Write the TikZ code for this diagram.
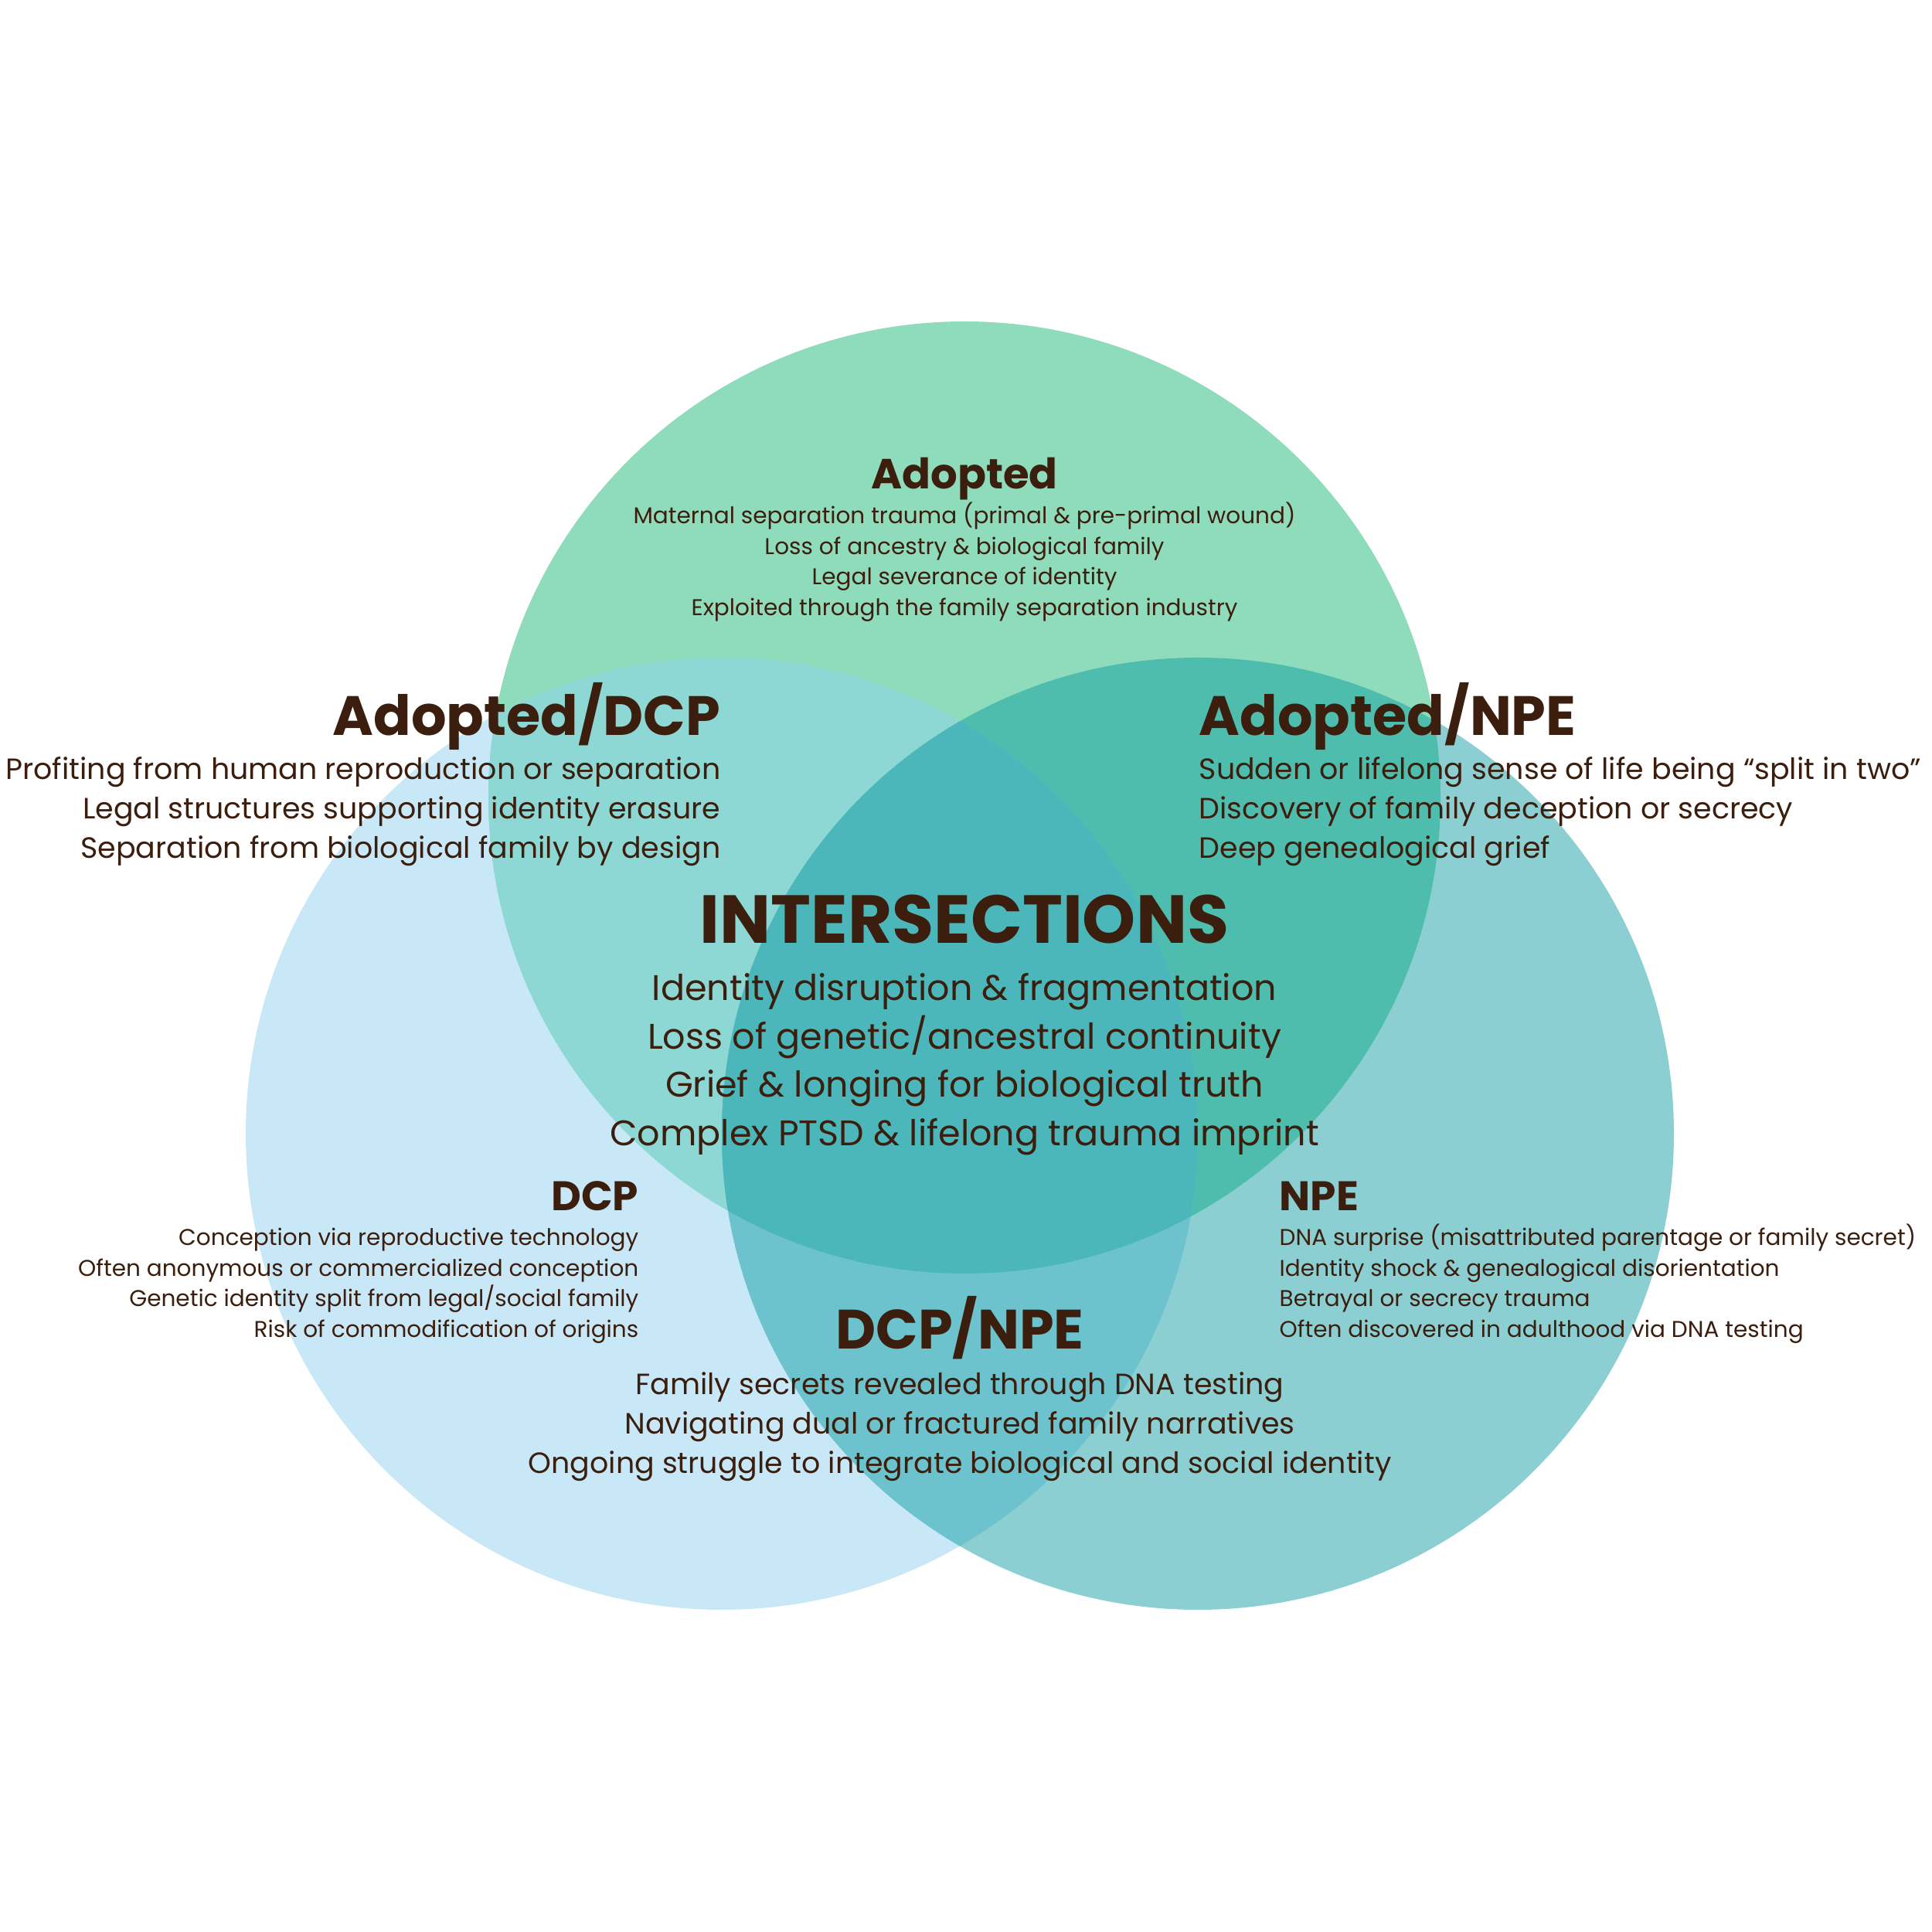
\documentclass[tikz,border=0pt]{standalone}
\usepackage{fontspec}
\setmainfont{Poppins}
\definecolor{ink}{HTML}{3B1E0D}
\definecolor{cAdopt}{HTML}{8FDCBC}
\definecolor{cDCP}{HTML}{C9E8F7}
\definecolor{cNPE}{HTML}{8BCFD3}
\definecolor{cAD}{HTML}{8DD8D4}
\definecolor{cAN}{HTML}{4FBDAE}
\definecolor{cDN}{HTML}{6CC2CD}
\definecolor{cAll}{HTML}{4CB7BB}
\tikzset{
  every node/.style={text=ink, inner sep=0pt},
  bigtitle/.style={font=\bfseries\fontsize{20.4}{24}\selectfont},
  toptitle/.style={font=\bfseries\fontsize{15.5}{19}\selectfont},
  subtitle/.style={font=\bfseries\fontsize{15.2}{18}\selectfont},
  maintitle/.style={font=\bfseries\fontsize{25}{30}\selectfont},
  smalltxt/.style={font=\fontsize{8.4}{10}\selectfont},
  midtxt/.style={font=\fontsize{10.8}{13}\selectfont},
  largetxt/.style={font=\fontsize{13.1}{16}\selectfont}
}
\begin{document}
\begin{tikzpicture}
  \useasboundingbox (0,0) rectangle (25,25);
  \fill[white] (0,0) rectangle (25,25);
  \def\rad{6.16}
  \coordinate (adp) at (12.48,14.68);
  \coordinate (dcp) at (9.34,10.33);
  \coordinate (npe) at (15.50,10.33);

  % circles
  \fill[cDCP] (dcp) circle (\rad);
  \fill[cNPE] (npe) circle (\rad);
  \fill[cAdopt] (adp) circle (\rad);
  \begin{scope}
    \clip (adp) circle (\rad);
    \fill[cAD] (dcp) circle (\rad);
    \fill[cAN] (npe) circle (\rad);
  \end{scope}
  \begin{scope}
    \clip (dcp) circle (\rad);
    \fill[cDN] (npe) circle (\rad);
    \clip (adp) circle (\rad);
    \fill[cAll] (npe) circle (\rad);
  \end{scope}

  % Adopted
  \node[toptitle, anchor=base] (adoptT) at (12.48,18.67) {Adopted};
  \foreach \txt [count=\i] in {{Maternal separation trauma (primal \& pre-primal wound)},
      {Loss of ancestry \& biological family},
      {Legal severance of identity},
      {Exploited through the family separation industry}}
    \node[smalltxt, anchor=base] (adopt-\i) at (12.48,{18.22-0.394*(\i-1)}) {\txt};

  % Adopted/DCP
  \node[bigtitle, anchor=base east] (adT) at (9.33,15.48) {Adopted/DCP};
  \foreach \txt [count=\i] in {{Profiting from human reproduction or separation},
      {Legal structures supporting identity erasure},
      {Separation from biological family by design}}
    \node[midtxt, anchor=base east] (ad-\i) at (9.33,{14.91-0.51*(\i-1)}) {\txt};

  % Adopted/NPE
  \node[bigtitle, anchor=base west] (anT) at (15.51,15.48) {Adopted/NPE};
  \foreach \txt [count=\i] in {{Sudden or lifelong sense of life being “split in two”},
      {Discovery of family deception or secrecy},
      {Deep genealogical grief}}
    \node[midtxt, anchor=base west] (an-\i) at (15.51,{14.91-0.51*(\i-1)}) {\txt};

  % INTERSECTIONS
  \node[maintitle, anchor=base] (allT) at (12.48,12.79) {INTERSECTIONS};
  \foreach \txt [count=\i] in {{Identity disruption \& fragmentation},
      {Loss of genetic/ancestral continuity},
      {Grief \& longing for biological truth},
      {Complex PTSD \& lifelong trauma imprint}}
    \node[largetxt, anchor=base] (all-\i) at (12.48,{12.05-0.625*(\i-1)}) {\txt};

  % DCP
  \node[subtitle, anchor=base east] (dcpT) at (8.27,9.33) {DCP};
  \foreach \txt [count=\i] in {{Conception via reproductive technology},
      {Often anonymous or commercialized conception},
      {Genetic identity split from legal/social family},
      {Risk of commodification of origins}}
    \node[smalltxt, anchor=base east] (dcp-\i) at (8.27,{8.88-0.394*(\i-1)}) {\txt};

  % NPE
  \node[subtitle, anchor=base west] (npeT) at (16.55,9.33) {NPE};
  \foreach \txt [count=\i] in {{DNA surprise (misattributed parentage or family secret)},
      {Identity shock \& genealogical disorientation},
      {Betrayal or secrecy trauma},
      {Often discovered in adulthood via DNA testing}}
    \node[smalltxt, anchor=base west] (npe-\i) at (16.55,{8.88-0.394*(\i-1)}) {\txt};

  % DCP/NPE
  \node[bigtitle, anchor=base] (dnT) at (12.42,7.54) {DCP/NPE};
  \foreach \txt [count=\i] in {{Family secrets revealed through DNA testing},
      {Navigating dual or fractured family narratives},
      {Ongoing struggle to integrate biological and social identity}}
    \node[midtxt, anchor=base] (dn-\i) at (12.42,{6.95-0.51*(\i-1)}) {\txt};
\end{tikzpicture}
\end{document}
